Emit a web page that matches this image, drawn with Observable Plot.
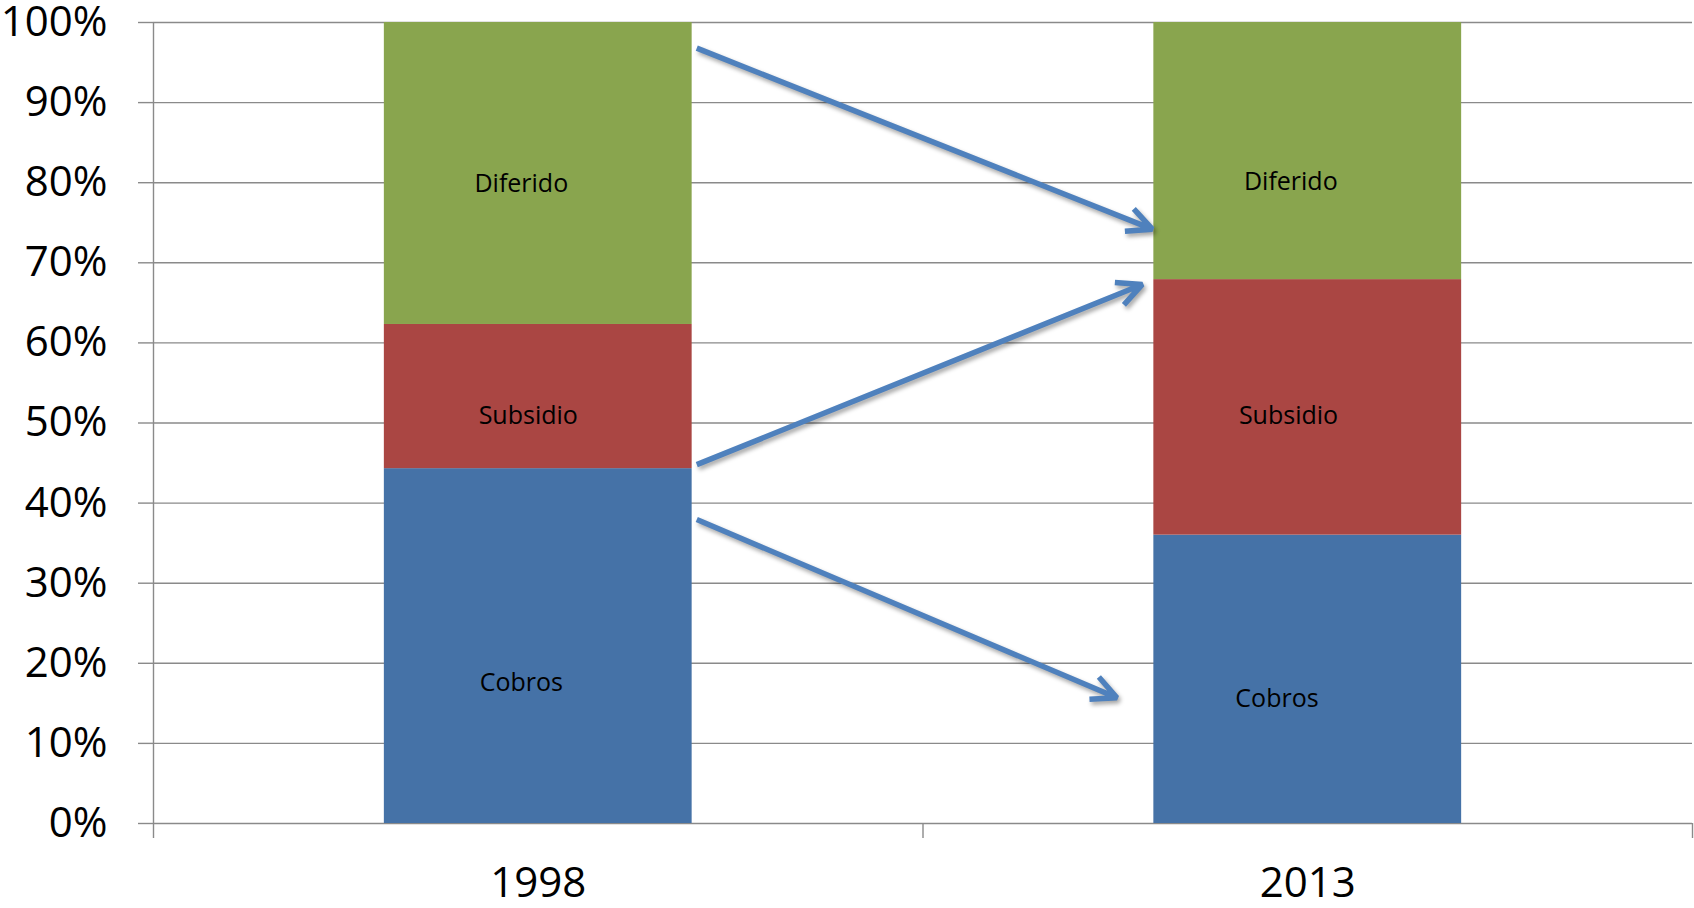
<!DOCTYPE html>
<html>
<head>
<meta charset="utf-8">
<script src="https://cdn.jsdelivr.net/npm/d3@7"></script>
<script src="https://cdn.jsdelivr.net/npm/@observablehq/plot@0.6"></script>
<style>
  html, body { margin: 0; padding: 0; background: #ffffff; }
  #chart svg { display: block; }
</style>
</head>
<body>
<div id="chart"></div>
<script>
// ---- data ----
const years = ["1998", "2013"];
const series = ["Cobros", "Subsidio", "Diferido"];
const cobros = [44.3, 36.0];
const subsidio = [18.0, 31.9];
const diferido = [37.7, 32.1];
const colors = ["#4572A7", "#AA4643", "#89A54E"];
const yTicks = [0, 10, 20, 30, 40, 50, 60, 70, 80, 90, 100];

// annotation: segment label anchors (x offset from bar centre, y in %)
const labelOffsetX = { Cobros: [-0.022, -0.040], Subsidio: [-0.013, -0.025], Diferido: [-0.022, -0.022] };
const labelY = { Cobros: [17.5, 15.6], Subsidio: [50.9, 50.9], Diferido: [79.8, 80.1] };

// annotation arrows (x in category units, y in %)
const arrowX1 = [0.206, 0.206, 0.206];
const arrowY1 = [96.8, 44.8, 37.95];
const arrowX2 = [0.798, 0.785, 0.752];
const arrowY2 = [74.2, 67.3, 15.7];

// ---- build tables ----
const values = { Cobros: cobros, Subsidio: subsidio, Diferido: diferido };
const segs = [];
const labels = [];
years.forEach((yr, i) => {
  let base = 0;
  series.forEach((s, k) => {
    const v = values[s][i];
    segs.push({ i, series: s, y1: base, y2: base + v });
    labels.push({ x: i + labelOffsetX[s][i], y: labelY[s][i], text: s });
    base += v;
  });
});
const arrows = arrowX1.map((_, j) => ({ x1: arrowX1[j], y1: arrowY1[j], x2: arrowX2[j], y2: arrowY2[j] }));
const boundaries = d3.range(years.length + 1).map(k => k - 0.5);

const grid = "#8a8a8a";
const font = "'Open Sans', sans-serif";

const chart = Plot.plot({
  width: 1694,
  height: 908,
  marginLeft: 153,
  marginRight: 2,
  marginTop: 22,
  marginBottom: 85,
  style: { fontFamily: font, background: "#ffffff", color: "#000000", overflow: "visible" },
  x: { type: "linear", domain: [-0.5, years.length - 0.5], axis: null },
  y: { domain: [0, 100], axis: null },
  color: { domain: series, range: colors },
  marks: [
    Plot.ruleY(yTicks, { stroke: grid, strokeWidth: 1.4 }),
    Plot.ruleX([boundaries[0]], { stroke: grid, strokeWidth: 1.4 }),
    Plot.axisY({ ticks: yTicks, tickSize: 15, tickPadding: 31, tickFormat: d => d + "%",
      stroke: grid, fill: "#000000", fontSize: 42, strokeWidth: 1.4 }),
    Plot.axisX({ ticks: boundaries, tickSize: 15, tickFormat: () => "", stroke: grid, strokeWidth: 1.4 }),
    Plot.axisX({ ticks: d3.range(years.length), tickSize: 0, tickPadding: 44,
      tickFormat: i => years[i], fill: "#000000", fontSize: 42 }),
    Plot.rect(segs, { x1: d => d.i - 0.2, x2: d => d.i + 0.2, y1: "y1", y2: "y2", fill: "series" }),
    Plot.text(labels, { x: "x", y: "y", text: "text", fontSize: 25, fill: "#000000" }),
    Plot.arrow(arrows, { x1: "x1", y1: "y1", x2: "x2", y2: "y2", stroke: "#4F81BD",
      strokeWidth: 5.5, headLength: 7.5, headAngle: 52, strokeLinecap: "butt", strokeLinejoin: "miter" })
  ]
});

d3.select(chart).selectAll("g[aria-label='arrow']")
  .style("filter", "drop-shadow(2px 3px 2px rgba(0,0,0,0.35))");

document.getElementById("chart").appendChild(chart);
</script>
</body>
</html>
